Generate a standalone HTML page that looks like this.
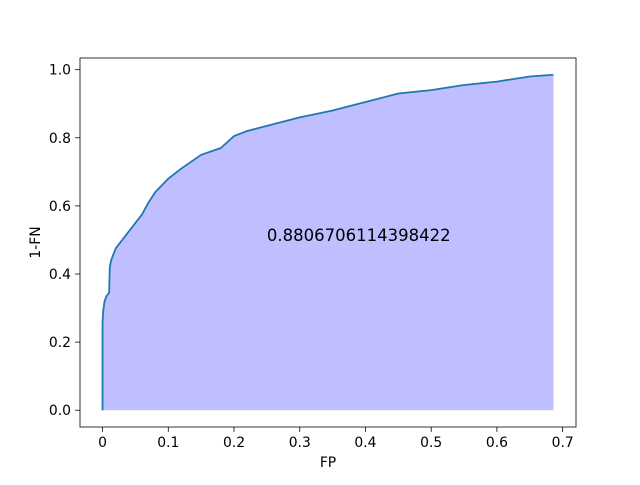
<!DOCTYPE html>
<html><head><meta charset="utf-8"><style>
body{margin:0;background:#fff}
svg text{font-family:"DejaVu Sans","Liberation Sans",sans-serif}
</style></head><body>
<svg id="c" width="640" height="480" xmlns="http://www.w3.org/2000/svg">
<rect width="640" height="480" fill="#fff"/>
<g id="plot"></g>
</svg>
<script>
const fpValues=[0,0,0.001,0.003,0.006,0.01,0.011,0.013,0.02,0.03,0.04,0.05,0.06,0.07,0.08,0.09,0.1,0.12,0.15,0.18,0.2,0.22,0.25,0.28,0.3,0.35,0.4,0.45,0.5,0.55,0.6,0.65,0.686];
const tpValues=[0,0.26,0.29,0.32,0.335,0.345,0.42,0.44,0.475,0.50,0.525,0.55,0.575,0.61,0.64,0.66,0.68,0.71,0.75,0.77,0.805,0.82,0.835,0.85,0.86,0.88,0.905,0.93,0.94,0.955,0.965,0.98,0.985];
const xTicks=[0,0.1,0.2,0.3,0.4,0.5,0.6,0.7];
const yTicks=[0,0.2,0.4,0.6,0.8,1.0];
const aucLabel="0.8806706114398422";
const L=80,R=576,T=58,B=427;
const xmin=-0.0343,xmax=0.7203,ymin=-0.0493,ymax=1.0343;
const sx=v=>L+(v-xmin)/(xmax-xmin)*(R-L);
const sy=v=>B-(v-ymin)/(ymax-ymin)*(B-T);
const NS="http://www.w3.org/2000/svg";
const g=document.getElementById('plot');
function mk(t,a,p){const e=document.createElementNS(NS,t);for(const k in a)e.setAttribute(k,a[k]);(p||g).appendChild(e);return e;}
let d="M"+sx(fpValues[0])+","+sy(tpValues[0]);
for(let i=1;i<fpValues.length;i++){d+=" L"+sx(fpValues[i])+","+sy(tpValues[i]);}
const last=fpValues.length-1;
const fill=mk('path',{d:d+" L"+sx(fpValues[last])+","+sy(0)+" Z",fill:"#bfbfff",stroke:"none"});


const line=mk('path',{d:d,fill:"none",stroke:"#1f77b4","stroke-width":1.8,"stroke-linejoin":"round"});


const frame=mk('rect',{x:L,y:T,width:R-L,height:B-T,fill:"none",stroke:"#000","stroke-width":0.8});


xTicks.forEach(v=>{const x=sx(v);
 mk('line',{x1:x,x2:x,y1:B,y2:B+4.9,stroke:"#000","stroke-width":0.8});
 const t=mk('text',{x:x,y:B+20,"text-anchor":"middle","font-size":13.9});t.textContent=String(v);
 
 });
yTicks.forEach(v=>{const y=sy(v);
 mk('line',{x1:L-4.9,x2:L,y1:y,y2:y,stroke:"#000","stroke-width":0.8});
 const t=mk('text',{x:L-9,y:y+5,"text-anchor":"end","font-size":13.9});t.textContent=v.toFixed(1);
 
 });
const xl=mk('text',{x:(L+R)/2,y:467,"text-anchor":"middle","font-size":13.9});xl.textContent="FP";


const yl=mk('text',{x:0,y:0,"text-anchor":"middle","font-size":13.9,transform:"translate(40,"+((T+B)/2)+") rotate(-90)"});yl.textContent="1-FN";


const at=mk('text',{x:sx(0.25),y:sy(0.5)+1,"font-size":16.5});at.textContent=aucLabel;


</script>
</body></html>
